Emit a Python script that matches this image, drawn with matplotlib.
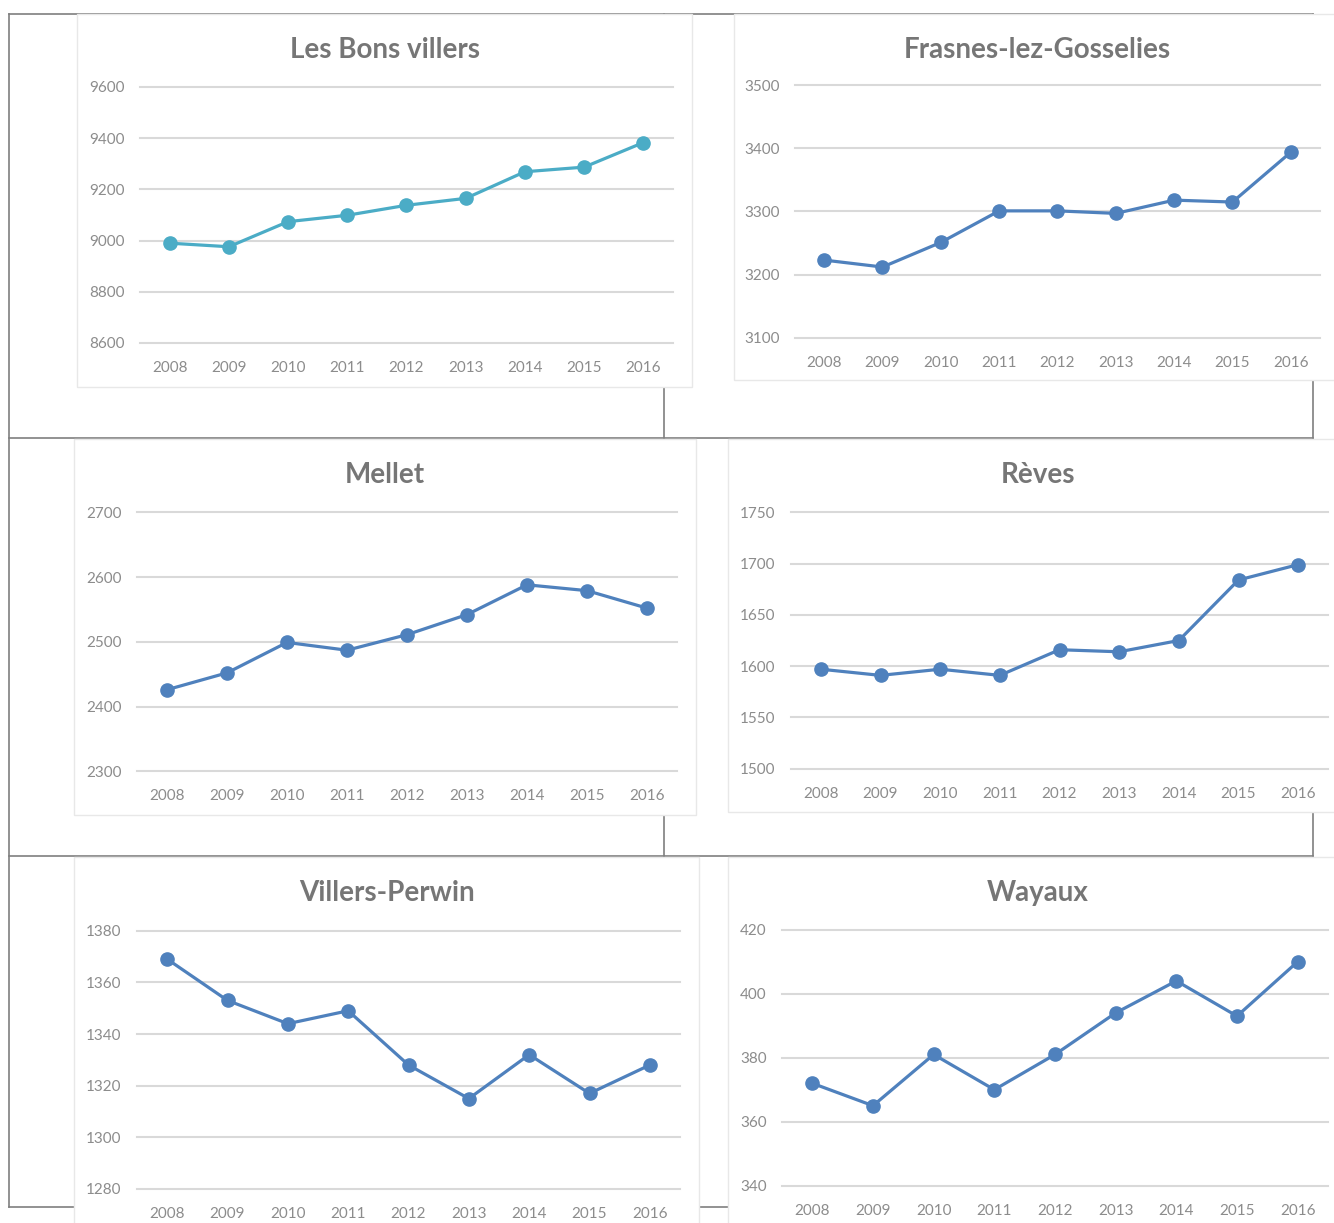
import matplotlib
matplotlib.use('Agg')
import matplotlib.pyplot as plt
from matplotlib.lines import Line2D
from matplotlib.patches import Rectangle

plt.rcParams['font.family'] = ['Lato', 'DejaVu Sans']

# données : population par commune, 2008-2016
years = ['2008', '2009', '2010', '2011', '2012', '2013', '2014', '2015', '2016']
titles = ['Les Bons villers', 'Frasnes-lez-Gosselies', 'Mellet', 'Rèves', 'Villers-Perwin', 'Wayaux']

bons_villers = [8990, 8976, 9074, 9099, 9138, 9165, 9269, 9287, 9383]
frasnes = [3223, 3212, 3251, 3301, 3301, 3297, 3318, 3315, 3394]
mellet = [2426, 2452, 2499, 2487, 2511, 2542, 2588, 2579, 2552]
reves = [1597, 1591, 1597, 1591, 1616, 1614, 1625, 1684, 1699]
villers_perwin = [1369, 1353, 1344, 1349, 1328, 1315, 1332, 1317, 1328]
wayaux = [372, 365, 381, 370, 381, 394, 404, 393, 410]

series = [bons_villers, frasnes, mellet, reves, villers_perwin, wayaux]
y_ranges = [(8600, 9600, 200), (3100, 3500, 100), (2300, 2700, 100),
            (1500, 1750, 50), (1280, 1380, 20), (340, 420, 20)]

W, H = 1334, 1223
fig = plt.figure(figsize=(W / 100, H / 100), dpi=100)
fig.patch.set_facecolor('white')


def fx(x):
    return x / W


def fy(y):
    return 1 - y / H


# lignes du tableau Word derrière les graphiques
table_col = '#7f7f7f'
for y in [14, 438, 856, 1207]:
    fig.add_artist(Line2D([fx(9), fx(1313)], [fy(y), fy(y)], transform=fig.transFigure,
                          color=table_col, lw=1.2, zorder=-3))
for x in [9, 664, 1313]:
    fig.add_artist(Line2D([fx(x), fx(x)], [fy(14), fy(1207)], transform=fig.transFigure,
                          color=table_col, lw=1.2, zorder=-3))

# cadres des graphiques (x0, y0, x1, y1) en pixels
panels = [(77, 14, 692, 387), (734, 14, 1345, 380), (74, 439, 696, 815),
          (728, 439, 1345, 812), (74, 857, 699, 1235), (728, 857, 1345, 1235)]
# zone de tracé (x0, x1, y_haut, y_bas) en pixels
plots = [(140, 673, 87, 343), (795, 1320, 85.3, 337.7), (137, 677, 512.3, 771.3),
         (791, 1328, 512.3, 768.7), (137, 680, 930.7, 1189), (782, 1328, 929.7, 1185.7)]
title_pos = [(385, 50), (1037, 50), (385, 475), (1038, 475), (387, 893), (1038, 893)]
line_colors = ['#4BACC6', '#4F81BD', '#4F81BD', '#4F81BD', '#4F81BD', '#4F81BD']

for i in range(6):
    px0, py0, px1, py1 = panels[i]
    fig.add_artist(Rectangle((fx(px0), fy(py1)), (px1 - px0) / W, (py1 - py0) / H,
                             transform=fig.transFigure, facecolor='white',
                             edgecolor='#e8e8e8', lw=1.0, zorder=-2))

    x0, x1, yt, yb = plots[i]
    ax = fig.add_axes([fx(x0), fy(yb), (x1 - x0) / W, (yb - yt) / H])
    ax.set_facecolor('none')
    lo, hi, step = y_ranges[i]
    ax.plot(range(len(years)), series[i], color=line_colors[i], lw=2.3,
            marker='o', markersize=9.5, clip_on=False, zorder=3)
    ax.set_xlim(-0.5, len(years) - 0.5)
    ax.set_ylim(lo, hi)
    ax.set_yticks(range(lo, hi + 1, step))
    ax.set_xticks(range(len(years)))
    ax.set_xticklabels(years)
    ax.tick_params(length=0, labelsize=11, labelcolor='#8c8c8c')
    ax.tick_params(axis='y', pad=11)
    ax.tick_params(axis='x', pad=13)
    ax.grid(axis='y', color='#d9d9d9', lw=1.5)
    ax.set_axisbelow(True)
    for gl in ax.yaxis.get_gridlines():
        gl.set_clip_on(False)
    for s in ax.spines.values():
        s.set_visible(False)

    tx, ty = title_pos[i]
    fig.text(fx(tx), fy(ty), titles[i], ha='center', va='center',
             fontsize=20, fontweight='bold', color='#767676')

fig.savefig('out.png', dpi=100)
